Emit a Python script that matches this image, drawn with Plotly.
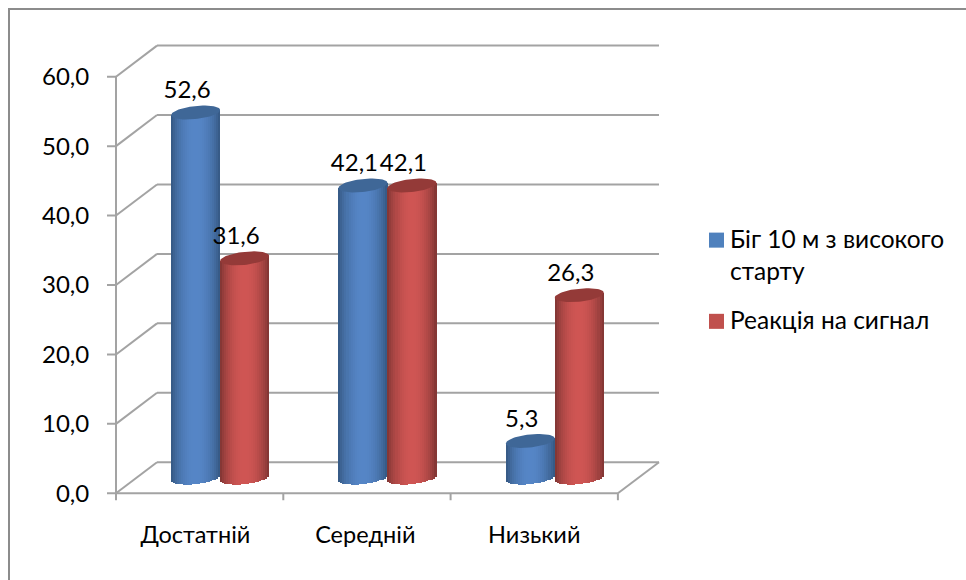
import numpy as np
import plotly.graph_objects as go

CATEGORIES = ["Достатній", "Середній", "Низький"]
CATEGORY_POS = [0.475, 1.49, 2.5]
RUN_VALUES = [52.6, 42.1, 5.3]
SIGNAL_VALUES = [31.6, 42.1, 26.3]
Y_TICKS = [0, 10, 20, 30, 40, 50, 60]
Y_TICK_LABELS = ["0,0", "10,0", "20,0", "30,0", "40,0", "50,0", "60,0"]
X_BOUNDARIES = [0, 1, 2, 3]
LEGEND_LINES = ["Біг 10 м з високого", "старту", "Реакція на сигнал"]

FONT = "Lato"
GREY = "#A3A3A3"
W, H = 966, 580
H_EFF = 573.5  # measured: the drawn paper comes out about 1% short of H

# pixel frame of the front plane of the fake 3D box
X0_PX, Y0_PX = 116, 492
PX_PER_CAT = 167.3
PX_PER_UNIT = 6.925
LEFT_PX, RIGHT_PX, TOP_PX, BOTTOM_PX = 107, 662, 44, 500
DEPTH_X = 41 / PX_PER_CAT
DEPTH_Y = 31 / PX_PER_UNIT
BACK_RIGHT = (659 - X0_PX) / PX_PER_CAT

# cylinder geometry
CYL_W = 49.0 / PX_PER_CAT
CAP_B = 6.5 / PX_PER_UNIT
CAP_TILT = 2.5 / PX_PER_UNIT
N_STRIPS = 24


def paper_x(px):
    return px / W


def paper_y(px):
    return 1 - px / H_EFF


def shade(t, edge, mid):
    f = np.sin(np.pi * t) ** 0.7
    r, g, b = (int(e + (m - e) * f) for e, m in zip(edge, mid))
    return f"rgb({r},{g},{b})"


def cylinder_traces(values, side, name, edge, mid, cap):
    xs, bases, heights, colors = [], [], [], []
    cap_x, cap_y = [], []
    strip = CYL_W / N_STRIPS
    for i, v in enumerate(values):
        cx = i + 0.5 + DEPTH_X / 2 + side * CYL_W / 2
        base_y = DEPTH_Y / 2
        for k in range(N_STRIPS):
            t = (k + 0.5) / N_STRIPS
            u = 2 * t - 1
            tilt = u * CAP_TILT
            low = base_y + tilt - CAP_B * np.sqrt(1 - u * u)
            xs.append(cx + u * CYL_W / 2)
            bases.append(low)
            heights.append(base_y + v + tilt - low)
            colors.append(shade(t, edge, mid))
        angles = np.linspace(0, 2 * np.pi, 60)
        cap_x += list(cx + np.cos(angles) * CYL_W / 2) + [None]
        cap_y += list(base_y + v + np.cos(angles) * CAP_TILT + np.sin(angles) * CAP_B) + [None]
    body = go.Bar(
        x=xs, y=heights, base=bases, width=strip * 1.15, name=name,
        marker=dict(color=colors, line=dict(width=0)), showlegend=False,
    )
    top = go.Scatter(
        x=cap_x, y=cap_y, mode="lines", fill="toself", fillcolor=cap,
        line=dict(width=0, color=cap), hoverinfo="skip", showlegend=False,
    )
    return body, top


fig = go.Figure()

run_body, run_cap = cylinder_traces(RUN_VALUES, -1, LEGEND_LINES[0], (50, 84, 124), (86, 134, 199), "#3F6797")
signal_body, signal_cap = cylinder_traces(SIGNAL_VALUES, 1, LEGEND_LINES[2], (120, 50, 48), (208, 86, 84), "#943A38")
fig.add_traces([run_body, signal_body, run_cap, signal_cap])

# Data labels
label_x, label_y, label_text = [], [], []
for side, values in ((-1, RUN_VALUES), (1, SIGNAL_VALUES)):
    for i, v in enumerate(values):
        label_x.append(i + 0.5 + DEPTH_X / 2 + side * CYL_W / 2 - 8.5 / PX_PER_CAT)
        label_y.append(DEPTH_Y / 2 + v + 20 / PX_PER_UNIT)
        label_text.append(f"{v:.1f}".replace(".", ","))
fig.add_trace(
    go.Scatter(
        x=label_x, y=label_y, text=label_text, mode="text", textposition="middle center",
        textfont=dict(family=FONT, size=24, color="black"), hoverinfo="skip", showlegend=False,
    )
)

# Box: walls, floor, axes
line = dict(color=GREY, width=2)
for v in Y_TICKS:
    fig.add_shape(type="line", x0=0, y0=v, x1=DEPTH_X, y1=v + DEPTH_Y, line=line, layer="below")
    fig.add_shape(type="line", x0=DEPTH_X, y0=v + DEPTH_Y, x1=BACK_RIGHT, y1=v + DEPTH_Y, line=line, layer="below")
    fig.add_shape(type="line", x0=-9 / PX_PER_CAT, y0=v, x1=0, y1=v, line=line, layer="below")
fig.add_shape(type="line", x0=0, y0=0, x1=0, y1=Y_TICKS[-1], line=line, layer="below")
fig.add_shape(type="line", x0=0, y0=0, x1=X_BOUNDARIES[-1], y1=0, line=line, layer="below")
fig.add_shape(type="line", x0=X_BOUNDARIES[-1], y0=0, x1=BACK_RIGHT, y1=DEPTH_Y, line=line, layer="below")
for b in X_BOUNDARIES:
    fig.add_shape(type="line", x0=b, y0=0, x1=b, y1=-7 / PX_PER_UNIT, line=line, layer="below")

# Outer frame: only the top and left edges show in the original
frame = dict(color="#8C8C8C", width=2)
fig.add_shape(type="line", xref="paper", yref="paper", x0=paper_x(8), x1=1, y0=paper_y(9), y1=paper_y(9), line=frame)
fig.add_shape(type="line", xref="paper", yref="paper", x0=paper_x(9), x1=paper_x(9), y0=-0.02, y1=paper_y(8), line=frame)

# Legend, laid out by hand to keep the wide line spacing of the original
for top_px, color in ((232, "#4F81BD"), (313, "#C0504D")):
    fig.add_shape(
        type="rect", xref="paper", yref="paper",
        x0=paper_x(709), x1=paper_x(724), y0=paper_y(top_px + 15), y1=paper_y(top_px),
        fillcolor=color, line=dict(width=0),
    )
for text, y_px in zip(LEGEND_LINES, (238, 270, 319)):
    fig.add_annotation(
        text=text, xref="paper", yref="paper", x=paper_x(731), y=paper_y(y_px),
        xanchor="left", yanchor="middle", showarrow=False, xshift=-3,
        font=dict(family=FONT, size=24.5, color="black"),
    )

fig.update_layout(
    width=W, height=H,
    margin=dict(l=0, r=0, t=0, b=0),
    paper_bgcolor="white", plot_bgcolor="white",
    barmode="overlay", bargap=0,
    showlegend=False,
    font=dict(family=FONT, size=24, color="black"),
    xaxis=dict(
        domain=[paper_x(LEFT_PX), paper_x(RIGHT_PX)],
        range=[(LEFT_PX - X0_PX) / PX_PER_CAT, (RIGHT_PX - X0_PX) / PX_PER_CAT],
        tickmode="array", tickvals=CATEGORY_POS, ticktext=CATEGORIES,
        ticks="outside", ticklen=12, tickcolor="rgba(0,0,0,0)",
        tickfont=dict(family=FONT, size=23.5),
        showgrid=False, zeroline=False, showline=False,
    ),
    yaxis=dict(
        domain=[paper_y(BOTTOM_PX), paper_y(TOP_PX)],
        range=[(Y0_PX - BOTTOM_PX) / PX_PER_UNIT, (Y0_PX - TOP_PX) / PX_PER_UNIT],
        tickmode="array", tickvals=Y_TICKS, ticktext=Y_TICK_LABELS,
        ticks="outside", ticklen=12, tickcolor="rgba(0,0,0,0)",
        showgrid=False, zeroline=False, showline=False,
    ),
)

# the page's default body margin would push the figure 8px off
fig.write_html("out.html", config={"displayModeBar": False}, post_script="document.body.style.margin = '0';")
